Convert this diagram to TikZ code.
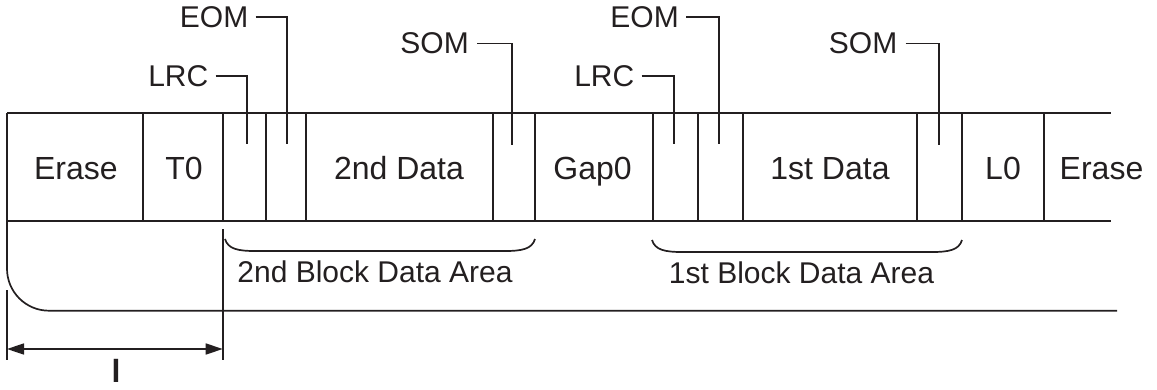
\documentclass[tikz,border=0pt]{standalone}
\usepackage{fontspec}
\setmainfont{Liberation Sans}
\usetikzlibrary{arrows.meta}
\definecolor{ink}{HTML}{231F20}
\tikzset{
  ln/.style={draw=ink, line width=1.7pt},
  celltext/.style={text=ink, font=\fontsize{32}{36}\selectfont, inner sep=0pt, anchor=base},
  lbl/.style={text=ink, font=\fontsize{30}{34}\selectfont, inner sep=0pt},
  ptr/.style={ln},
  brace/.style={ln},
  dim/.style={ln, {Triangle[length=17pt,width=11pt]}-{Triangle[length=17pt,width=11pt]}}
}
\begin{document}
\begin{tikzpicture}[x=1pt,y=-1pt]
\useasboundingbox (0,0) rectangle (1157,389);
% tape lines
\draw[ln] (7,113) -- (1111,113);
\draw[ln] (7,220.7) -- (1111,220.7);
\draw[ln, rounded corners=42pt] (7,113) -- (7,310.7) -- (1117,310.7);
% cell dividers
\foreach \x in {143,222.7,265.7,305.7,492.7,535,652.7,697.9,743,916.7,961.7,1044.3}
  \draw[ln] (\x,113) -- (\x,220.7);
% cell texts
\node[celltext] (erase1) at (75.8,179.5) {Erase};
\node[celltext] (t0) at (184,179.5) {T0};
\node[celltext] (data2) at (399,179.5) {2nd Data};
\node[celltext] (gap0) at (592.5,179.5) {Gap0};
\node[celltext] (data1) at (830,179.5) {1st Data};
\node[celltext] (l0) at (1003,179.5) {L0};
\node[celltext] (erase2) at (1101.5,179.5) {Erase};
% pointer labels, group 2
\node[lbl, anchor=east] (lrc2) at (208.5,76) {LRC};
\node[lbl, anchor=east] (eom2) at (248.5,17.3) {EOM};
\node[lbl, anchor=east] (som2) at (469,43.5) {SOM};
\coordinate (lrc2e) at (247.3,144);
\coordinate (eom2e) at (286.7,143.5);
\coordinate (som2e) at (512.3,145);
\draw[ptr] ([xshift=7pt]lrc2.east) -| (lrc2e);
\draw[ptr] ([xshift=7pt]eom2.east) -| (eom2e);
\draw[ptr] ([xshift=8pt]som2.east) -| (som2e);
% pointer labels, group 1
\node[lbl, anchor=east] (lrc1) at (634.5,76) {LRC};
\node[lbl, anchor=east] (eom1) at (679,17.3) {EOM};
\node[lbl, anchor=east] (som1) at (897.5,43.5) {SOM};
\coordinate (lrc1e) at (674.3,144);
\coordinate (eom1e) at (718.7,143.5);
\coordinate (som1e) at (939.3,145);
\draw[ptr] ([xshift=7pt]lrc1.east) -| (lrc1e);
\draw[ptr] ([xshift=7pt]eom1.east) -| (eom1e);
\draw[ptr] ([xshift=8pt]som1.east) -| (som1e);
% braces
\draw[brace] (225,239) .. controls (228,249) and (238,251) .. (255,251) -- (505,251) .. controls (522,251) and (532,249) .. (535,239);
\draw[brace] (652,240) .. controls (655,250) and (665,252) .. (682,252) -- (932,252) .. controls (949,252) and (959,250) .. (962,240);
\node[lbl] (area2) at (375,272) {2nd Block Data Area};
\node[lbl] (area1) at (801.5,273) {1st Block Data Area};
% dimension
\coordinate (dl1) at (7,290);
\coordinate (dl2) at (7,360);
\coordinate (dr1) at (222.7,229);
\coordinate (dr2) at (222.7,360);
\draw[ln] (dl1) -- (dl2);
\draw[ln] (dr1) -- (dr2);
\coordinate (al) at (7,349);
\coordinate (ar) at (222.7,349);
\draw[dim] (al) -- (ar);
\node[text=ink, font=\fontsize{32}{36}\selectfont\bfseries, inner sep=0pt, anchor=base] (len) at (116,382.7) {l};
\end{tikzpicture}
\end{document}
